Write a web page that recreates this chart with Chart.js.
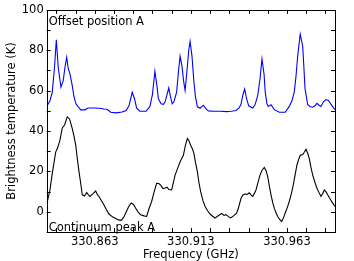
<!DOCTYPE html>
<html>
<head>
<meta charset="utf-8">
<script src="https://cdn.jsdelivr.net/npm/chart.js@4/dist/chart.umd.min.js"></script>
<style>
  html, body { margin: 0; padding: 0; background: #fff; }
  canvas { display: block; }
</style>
</head>
<body>
<canvas id="spec" width="354" height="261"></canvas>
<script>
// offset position A (blue)
const blueFreq = [330.8382, 330.8397, 330.8409, 330.8421, 330.8430, 330.8440, 330.8454, 330.8466, 330.8475, 330.8484,
  330.8492, 330.8501, 330.8512, 330.8522, 330.8532, 330.8557, 330.8579, 330.8595, 330.8626, 330.8657,
  330.8678, 330.8694, 330.8713, 330.8741, 330.8772, 330.8793, 330.8808, 330.8825, 330.8837, 330.8848,
  330.8865, 330.8897, 330.8917, 330.8930, 330.8943, 330.8954, 330.8961, 330.8975, 330.8987, 330.8996,
  330.9015, 330.9024, 330.9033, 330.9042, 330.9056, 330.9066, 330.9074, 330.9084, 330.9092, 330.9100,
  330.9110, 330.9119, 330.9126, 330.9136, 330.9146, 330.9154, 330.9164, 330.9178, 330.9195, 330.9209,
  330.9221, 330.9245, 330.9282, 330.9317, 330.9339, 330.9365, 330.9381, 330.9391, 330.9401, 330.9410,
  330.9420, 330.9431, 330.9452, 330.9464, 330.9478, 330.9490, 330.9500, 330.9511, 330.9517, 330.9526,
  330.9533, 330.9547, 330.9564, 330.9590, 330.9621, 330.9642, 330.9656, 330.9668, 330.9677, 330.9686,
  330.9699, 330.9712, 330.9719, 330.9724, 330.9738, 330.9750, 330.9764, 330.9776, 330.9786, 330.9797,
  330.9807, 330.9820, 330.9833, 330.9846, 330.9859, 330.9879];
const blueTemp = [52.5, 55, 59.3, 72, 85.2, 71.6, 61.7, 65, 71.6, 76.5,
  71, 68.3, 63, 57, 53.5, 50.5, 50.5, 51.4, 51.4, 51.3,
  50.9, 50.8, 49.3, 49, 49.4, 50.2, 52.5, 59.2, 56, 51.3,
  49.8, 49.8, 52.2, 58, 69.6, 62, 56, 53.5, 53.2, 54.5,
  61.3, 57, 53.5, 54.5, 59.3, 70, 77, 72, 65, 60.1,
  70, 80, 84.4, 77, 64.2, 57, 52, 51.3, 52.8, 51,
  50, 49.8, 49.8, 49.6, 49.8, 50.2, 51.5, 53.2, 58, 60.8,
  56, 52.5, 51.4, 53, 57.6, 66, 75.7, 68, 59.3, 53.5,
  52.2, 53, 50.6, 49.3, 49.3, 52.2, 55, 59.3, 67, 77.3,
  88, 82, 70, 61, 53, 52.2, 51.8, 52.5, 53.7, 52.8,
  52.2, 54.5, 55.6, 55.2, 53.3, 50.6];

// continuum peak A (black)
const blackFreq = [330.8382, 330.8397, 330.8409, 330.8427, 330.8435, 330.8449, 330.8461, 330.8473, 330.8487, 330.8499,
  330.8513, 330.8522, 330.8531, 330.8539, 330.8548, 330.8557, 330.8565, 330.8577, 330.8588, 330.8596,
  330.8605, 330.8621, 330.8635, 330.8644, 330.8652, 330.8665, 330.8678, 330.8691, 330.8704, 330.8722,
  330.8739, 330.8754, 330.8768, 330.8780, 330.8791, 330.8806, 330.8820, 330.8832, 330.8843, 330.8855,
  330.8869, 330.8886, 330.8900, 330.8912, 330.8926, 330.8938, 330.8952, 330.8963, 330.8973, 330.8985,
  330.8996, 330.9006, 330.9016, 330.9030, 330.9039, 330.9048, 330.9061, 330.9074, 330.9091, 330.9102,
  330.9112, 330.9120, 330.9129, 330.9139, 330.9146, 330.9155, 330.9164, 330.9172, 330.9181, 330.9193,
  330.9204, 330.9217, 330.9230, 330.9243, 330.9256, 330.9274, 330.9291, 330.9302, 330.9313, 330.9326,
  330.9337, 330.9352, 330.9368, 330.9378, 330.9391, 330.9401, 330.9413, 330.9425, 330.9434, 330.9443,
  330.9452, 330.9460, 330.9469, 330.9479, 330.9490, 330.9500, 330.9512, 330.9521, 330.9530, 330.9539,
  330.9547, 330.9556, 330.9564, 330.9573, 330.9582, 330.9592, 330.9603, 330.9612, 330.9621, 330.9632,
  330.9642, 330.9653, 330.9663, 330.9673, 330.9682, 330.9691, 330.9699, 330.9712, 330.9720, 330.9729,
  330.9738, 330.9746, 330.9755, 330.9764, 330.9776, 330.9786, 330.9797, 330.9807, 330.9816, 330.9824,
  330.9833, 330.9842, 330.9854, 330.9868, 330.9880];
const blackTemp = [4.5, 10.8, 19, 29.7, 31.2, 35.5, 41.5, 43, 47, 46,
  41.2, 37.5, 33, 26.5, 19.9, 14, 8.4, 7.8, 9.6, 8.5,
  7.6, 9, 10.3, 8.5, 7.6, 5.5, 3.4, 1, -1.1, -2.5,
  -3.3, -4, -4.2, -2.8, -0.6, 2.5, 4.4, 3.5, 1.8, 0,
  -1.5, -2, -2.3, 1.5, 5.1, 9.5, 14.1, 14, 13.2, 11.5,
  11.8, 12.2, 11, 10.8, 14.5, 18.2, 21.5, 24.8, 28, 33,
  36.3, 35.2, 33, 31, 28.9, 24, 19.9, 14.5, 10, 5.5,
  2.6, 0.5, -1.1, -2.2, -3.1, -1.8, -0.8, -1.8, -1.4, -2.4,
  -3, -2, -0.7, 2, 6.7, 8.3, 8.8, 8.7, 9.4, 8.4,
  7.6, 9, 10.8, 14.5, 18.2, 20.5, 22, 20.5, 17.4, 12.5,
  8.4, 4.5, 1.8, -0.5, -2.3, -3.8, -4.8, -3, -0.6, 2.2,
  5.1, 9, 13.3, 18.5, 23.2, 26, 28, 28.4, 29.5, 31,
  29, 26.5, 22, 18.2, 14.5, 11.7, 9.5, 7.6, 9, 10.8,
  10, 8.4, 6.5, 4.3, 2.6];

const xTicks = [330.843, 330.853, 330.863, 330.873, 330.883, 330.893, 330.903, 330.913, 330.923,
  330.933, 330.943, 330.953, 330.963, 330.973, 330.983];
const xTickLabels = ['330.863', '330.913', '330.963'];
const yTickLabels = [0, 20, 40, 60, 80, 100];

const font = 'DejaVu Sans';
const fsize = 11.5;

// matplotlib-like frame with inward ticks + the two panel captions
const frame = {
  id: 'frame',
  afterDraw(chart) {
    const c = chart.ctx, a = chart.chartArea;
    const xs = chart.scales.x, ys = chart.scales.y;
    c.save();
    c.strokeStyle = '#000';
    c.lineWidth = 1;
    c.strokeRect(Math.round(a.left) + 0.5, Math.round(a.top) + 0.5,
      Math.round(a.right - a.left), Math.round(a.bottom - a.top));
    c.beginPath();
    xs.ticks.forEach(t => {
      const px = Math.round(xs.getPixelForValue(t.value)) + 0.5;
      c.moveTo(px, a.bottom); c.lineTo(px, a.bottom - 4);
      c.moveTo(px, a.top); c.lineTo(px, a.top + 4);
    });
    ys.ticks.forEach(t => {
      const py = Math.round(ys.getPixelForValue(t.value)) + 0.5;
      c.moveTo(a.left, py); c.lineTo(a.left + 4, py);
      c.moveTo(a.right, py); c.lineTo(a.right - 4, py);
    });
    c.stroke();
    c.fillStyle = '#000';
    c.font = fsize + 'px "' + font + '"';
    c.textBaseline = 'alphabetic';
    c.fillText('Offset position A', a.left + 2, a.top + 15);
    c.fillText('Continuum peak A', a.left + 2, a.bottom - 1.5);
    c.restore();
  }
};

new Chart(document.getElementById('spec'), {
  type: 'line',
  data: {
    datasets: [
      {
        label: 'Offset position A',
        data: blueFreq.map((f, i) => ({x: f, y: blueTemp[i]})),
        borderColor: '#0000ff',
        borderWidth: 1.1,
        pointRadius: 0,
        tension: 0
      },
      {
        label: 'Continuum peak A',
        data: blackFreq.map((f, i) => ({x: f, y: blackTemp[i]})),
        borderColor: '#000000',
        borderWidth: 1.1,
        pointRadius: 0,
        tension: 0
      }
    ]
  },
  options: {
    responsive: false,
    animation: false,
    devicePixelRatio: 1,
    layout: {padding: {top: 9, right: 19, left: 0, bottom: 0}},
    plugins: {legend: {display: false}, tooltip: {enabled: false}},
    scales: {
      x: {
        type: 'linear',
        min: 330.838,
        max: 330.988,
        afterBuildTicks: s => { s.ticks = xTicks.map(v => ({value: v})); },
        afterFit: s => { s.height = 29; },
        grid: {display: false, drawTicks: false, tickLength: 0},
        border: {display: false},
        ticks: {
          autoSkip: false,
          maxRotation: 0,
          padding: 3,
          color: '#000',
          font: {family: font, size: fsize},
          callback: v => {
            const s = v.toFixed(3);
            return xTickLabels.includes(s) ? s : '';
          }
        },
        title: {display: true, text: 'Frequency (GHz)', color: '#000',
          font: {family: font, size: fsize}, padding: {top: 0, bottom: -1}}
      },
      y: {
        min: -10,
        max: 100,
        afterFit: s => { s.width = 46.7; },
        grid: {display: false, drawTicks: false, tickLength: 0},
        border: {display: false},
        ticks: {
          stepSize: 10,
          padding: 3,
          color: '#000',
          font: {family: font, size: fsize},
          callback: v => yTickLabels.includes(v) ? String(v) : ''
        },
        title: {display: true, text: 'Brightness temperature (K)', color: '#000',
          font: {family: font, size: fsize}, padding: {top: 5.5, bottom: 0}}
      }
    }
  },
  plugins: [frame]
});
</script>
</body>
</html>
